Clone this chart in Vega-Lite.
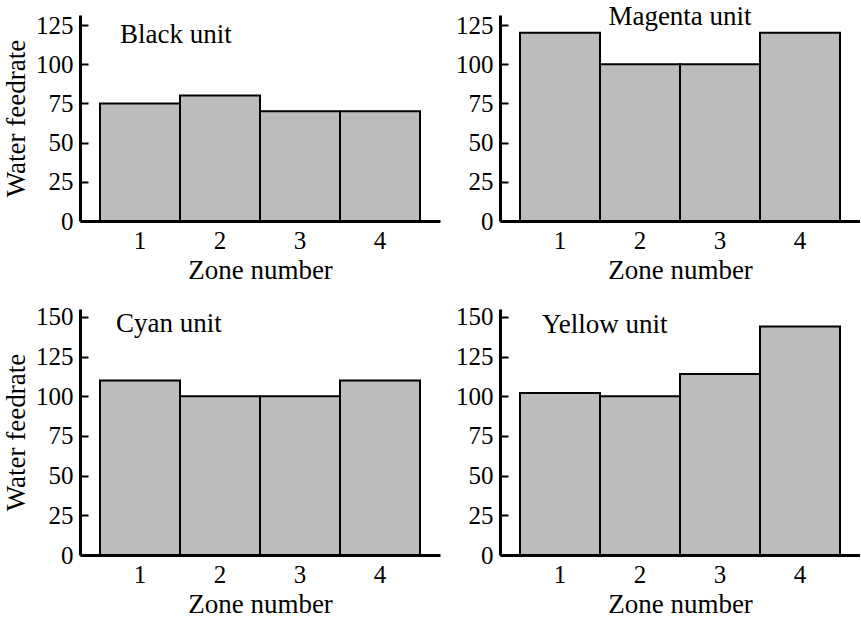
{
  "$schema": "https://vega.github.io/schema/vega-lite/v6.json",
  "padding": {"left": 2, "top": 3, "right": 0, "bottom": 0},
  "background": "white",
  "datasets": {
    "feed": [
      {"unit": "Black", "zone": "1", "feedrate": 75},
      {"unit": "Black", "zone": "2", "feedrate": 80},
      {"unit": "Black", "zone": "3", "feedrate": 70},
      {"unit": "Black", "zone": "4", "feedrate": 70},
      {"unit": "Magenta", "zone": "1", "feedrate": 120},
      {"unit": "Magenta", "zone": "2", "feedrate": 100},
      {"unit": "Magenta", "zone": "3", "feedrate": 100},
      {"unit": "Magenta", "zone": "4", "feedrate": 120},
      {"unit": "Cyan", "zone": "1", "feedrate": 110},
      {"unit": "Cyan", "zone": "2", "feedrate": 100},
      {"unit": "Cyan", "zone": "3", "feedrate": 100},
      {"unit": "Cyan", "zone": "4", "feedrate": 110},
      {"unit": "Yellow", "zone": "1", "feedrate": 102},
      {"unit": "Yellow", "zone": "2", "feedrate": 100},
      {"unit": "Yellow", "zone": "3", "feedrate": 114},
      {"unit": "Yellow", "zone": "4", "feedrate": 144}
    ]
  },
  "columns": 2,
  "spacing": {"row": 21, "column": 15},
  "concat": [
    {
      "width": 360, "height": 206,
      "layer": [
        {
          "data": {"name": "feed"},
          "transform": [{"filter": "datum.unit === 'Black'"}],
          "mark": {"type": "bar", "fill": "#bcbcbc", "stroke": "black", "strokeWidth": 2},
          "encoding": {
            "x": {"field": "zone", "type": "ordinal", "scale": {"paddingInner": 0, "paddingOuter": 0.25}, "axis": {"title": "Zone number"}},
            "y": {"field": "feedrate", "type": "quantitative", "scale": {"domain": [0, 131.4], "nice": false}, "axis": {"title": "Water feedrate", "values": [0, 25, 50, 75, 100, 125]}}
          }
        },
        {
          "data": {"values": [{"label": "Black unit"}]},
          "mark": {"type": "text", "align": "left", "baseline": "alphabetic", "fontSize": 27, "dx": 20, "dy": 28, "color": "black"},
          "encoding": {
            "x": {"datum": "1", "type": "ordinal", "bandPosition": 0},
            "y": {"datum": 131.4, "type": "quantitative"},
            "text": {"field": "label"}
          }
        }
      ]
    },
    {
      "width": 360, "height": 206,
      "layer": [
        {
          "data": {"name": "feed"},
          "transform": [{"filter": "datum.unit === 'Magenta'"}],
          "mark": {"type": "bar", "fill": "#bcbcbc", "stroke": "black", "strokeWidth": 2},
          "encoding": {
            "x": {"field": "zone", "type": "ordinal", "scale": {"paddingInner": 0, "paddingOuter": 0.25}, "axis": {"title": "Zone number"}},
            "y": {"field": "feedrate", "type": "quantitative", "scale": {"domain": [0, 131.4], "nice": false}, "axis": {"title": null, "values": [0, 25, 50, 75, 100, 125]}}
          }
        },
        {
          "data": {"values": [{"label": "Magenta unit"}]},
          "mark": {"type": "text", "align": "center", "baseline": "alphabetic", "fontSize": 27, "dx": 0, "dy": 10, "color": "black"},
          "encoding": {
            "x": {"datum": "2", "type": "ordinal", "bandPosition": 1},
            "y": {"datum": 131.4, "type": "quantitative"},
            "text": {"field": "label"}
          }
        }
      ]
    },
    {
      "width": 360, "height": 246,
      "layer": [
        {
          "data": {"name": "feed"},
          "transform": [{"filter": "datum.unit === 'Cyan'"}],
          "mark": {"type": "bar", "fill": "#bcbcbc", "stroke": "black", "strokeWidth": 2},
          "encoding": {
            "x": {"field": "zone", "type": "ordinal", "scale": {"paddingInner": 0, "paddingOuter": 0.25}, "axis": {"title": "Zone number"}},
            "y": {"field": "feedrate", "type": "quantitative", "scale": {"domain": [0, 155], "nice": false}, "axis": {"title": "Water feedrate", "values": [0, 25, 50, 75, 100, 125, 150]}}
          }
        },
        {
          "data": {"values": [{"label": "Cyan unit"}]},
          "mark": {"type": "text", "align": "left", "baseline": "alphabetic", "fontSize": 27, "dx": 16, "dy": 23, "color": "black"},
          "encoding": {
            "x": {"datum": "1", "type": "ordinal", "bandPosition": 0},
            "y": {"datum": 155, "type": "quantitative"},
            "text": {"field": "label"}
          }
        }
      ]
    },
    {
      "width": 360, "height": 246,
      "layer": [
        {
          "data": {"name": "feed"},
          "transform": [{"filter": "datum.unit === 'Yellow'"}],
          "mark": {"type": "bar", "fill": "#bcbcbc", "stroke": "black", "strokeWidth": 2},
          "encoding": {
            "x": {"field": "zone", "type": "ordinal", "scale": {"paddingInner": 0, "paddingOuter": 0.25}, "axis": {"title": "Zone number"}},
            "y": {"field": "feedrate", "type": "quantitative", "scale": {"domain": [0, 155], "nice": false}, "axis": {"title": null, "values": [0, 25, 50, 75, 100, 125, 150]}}
          }
        },
        {
          "data": {"values": [{"label": "Yellow unit"}]},
          "mark": {"type": "text", "align": "left", "baseline": "alphabetic", "fontSize": 27, "dx": 22, "dy": 24, "color": "black"},
          "encoding": {
            "x": {"datum": "1", "type": "ordinal", "bandPosition": 0},
            "y": {"datum": 155, "type": "quantitative"},
            "text": {"field": "label"}
          }
        }
      ]
    }
  ],
  "config": {
    "font": "Liberation Serif",
    "view": {"stroke": null},
    "text": {"font": "Liberation Serif"},
    "axis": {
      "grid": false,
      "domainColor": "black",
      "domainWidth": 3,
      "labelFontSize": 25,
      "titleFontSize": 27,
      "titleFontWeight": "normal",
      "labelColor": "black",
      "titleColor": "black",
      "labelFont": "Liberation Serif",
      "titleFont": "Liberation Serif"
    },
    "axisX": {"ticks": false, "labelPadding": 7, "labelAngle": 0, "titlePadding": 4},
    "axisY": {"tickSize": -8, "tickWidth": 2, "tickColor": "black", "labelPadding": 15, "titlePadding": 5}
  }
}
